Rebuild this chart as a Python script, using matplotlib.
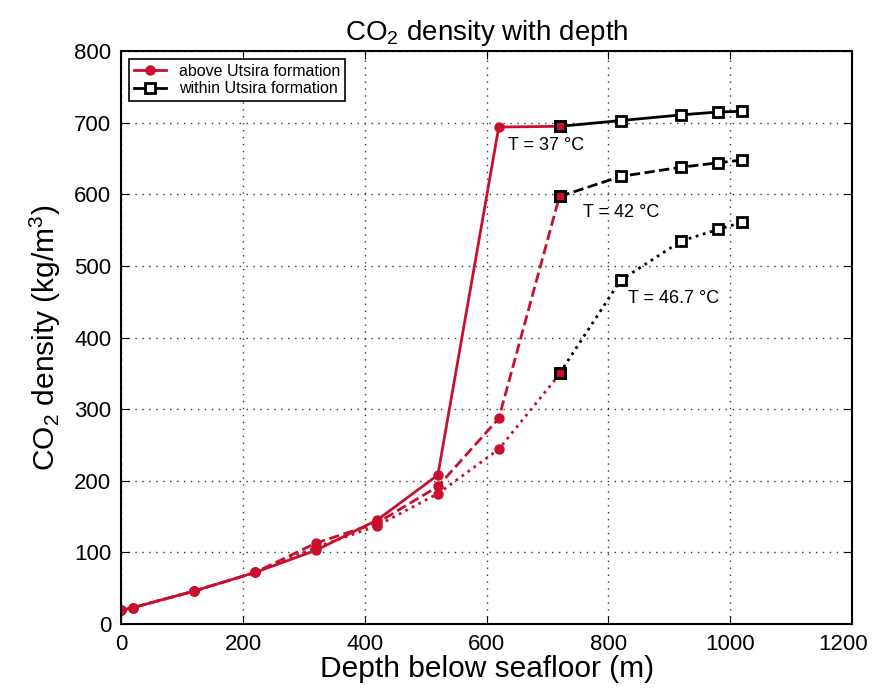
import numpy as np
import matplotlib.pyplot as plt
import matplotlib.transforms as mtransforms

plt.rcParams['font.family'] = ['Liberation Sans', 'DejaVu Sans']
plt.rcParams['mathtext.default'] = 'regular'

# Depth below seafloor (m)
depth_above = [0, 20, 120, 220, 320, 420, 520, 620, 720]
depth_within = [720, 820, 920, 980, 1020]

# CO2 density above Utsira formation (kg/m3), three temperature cases
rho_above_37 = [19, 23, 46, 72, 103, 145, 208, 694, 695]
rho_above_42 = [19, 23, 46, 72, 113, 141, 192, 287, 598]
rho_above_467 = [19, 23, 46, 72, 107, 137, 182, 244, 349]

# CO2 density within Utsira formation
rho_within_37 = [695, 703, 711, 715, 716]
rho_within_42 = [597, 625, 638, 644, 648]
rho_within_467 = [350, 480, 535, 551, 561]

labels = ['T = 37 °C', 'T = 42 °C', 'T = 46.7 °C']
label_pos = [(635, 668), (759, 575), (832, 455)]

red = '#c8102e'

fig = plt.figure(figsize=(8.72, 6.91), dpi=100)
ax = fig.add_axes([0.139, 0.097, 0.838, 0.829])

styles = ['-', '--', ':']
above = [rho_above_37, rho_above_42, rho_above_467]
within = [rho_within_37, rho_within_42, rho_within_467]

for i in range(3):
    ax.plot(depth_above, above[i], color=red, linestyle=styles[i], lw=2,
            marker='o', markersize=6.5, label='above Utsira formation' if i == 0 else None)
    ax.plot(depth_within, within[i], color='black', linestyle=styles[i], lw=2,
            marker='s', markersize=7, markerfacecolor='white', markeredgewidth=2,
            label='within Utsira formation' if i == 0 else None)
    # red fill in the first square (overlapping red point)
    ax.plot(depth_within[:1], within[i][:1], linestyle='none', marker='s', markersize=7,
            markerfacecolor=red, markeredgecolor='black', markeredgewidth=2)
    ax.text(label_pos[i][0], label_pos[i][1], labels[i], fontsize=13, va='center')

ax.set_xlim(0, 1200)
ax.set_ylim(0, 800)
ax.set_xticks(np.arange(0, 1201, 200))
ax.set_yticks(np.arange(0, 801, 100))
ax.grid(True, linestyle=(0, (1, 4)), color='#333333', lw=1)
ax.tick_params(direction='in', labelsize=16, top=True, right=True, length=6, pad=7)
for sp in ax.spines.values():
    sp.set_linewidth(1.5)

# nudge the last x tick label so it stays inside the figure
last = ax.get_xticklabels()[-1]
last.set_transform(last.get_transform() + mtransforms.ScaledTranslation(-9 / 100, 0, fig.dpi_scale_trans))

ax.set_xlabel('Depth below seafloor (m)', fontsize=21.5, labelpad=0)
ax.set_ylabel('CO$_2$ density (kg/m$^3$)', fontsize=21.5, labelpad=8)
ax.set_title('CO$_2$ density with depth', fontsize=20, pad=8)

leg = ax.legend(loc='upper left', fontsize=11.5, fancybox=False, framealpha=1,
                edgecolor='black', borderaxespad=0.5, handlelength=2.0,
                borderpad=0.3, labelspacing=0.15)
leg.get_frame().set_linewidth(1.2)

fig.savefig('out.png', dpi=100)
